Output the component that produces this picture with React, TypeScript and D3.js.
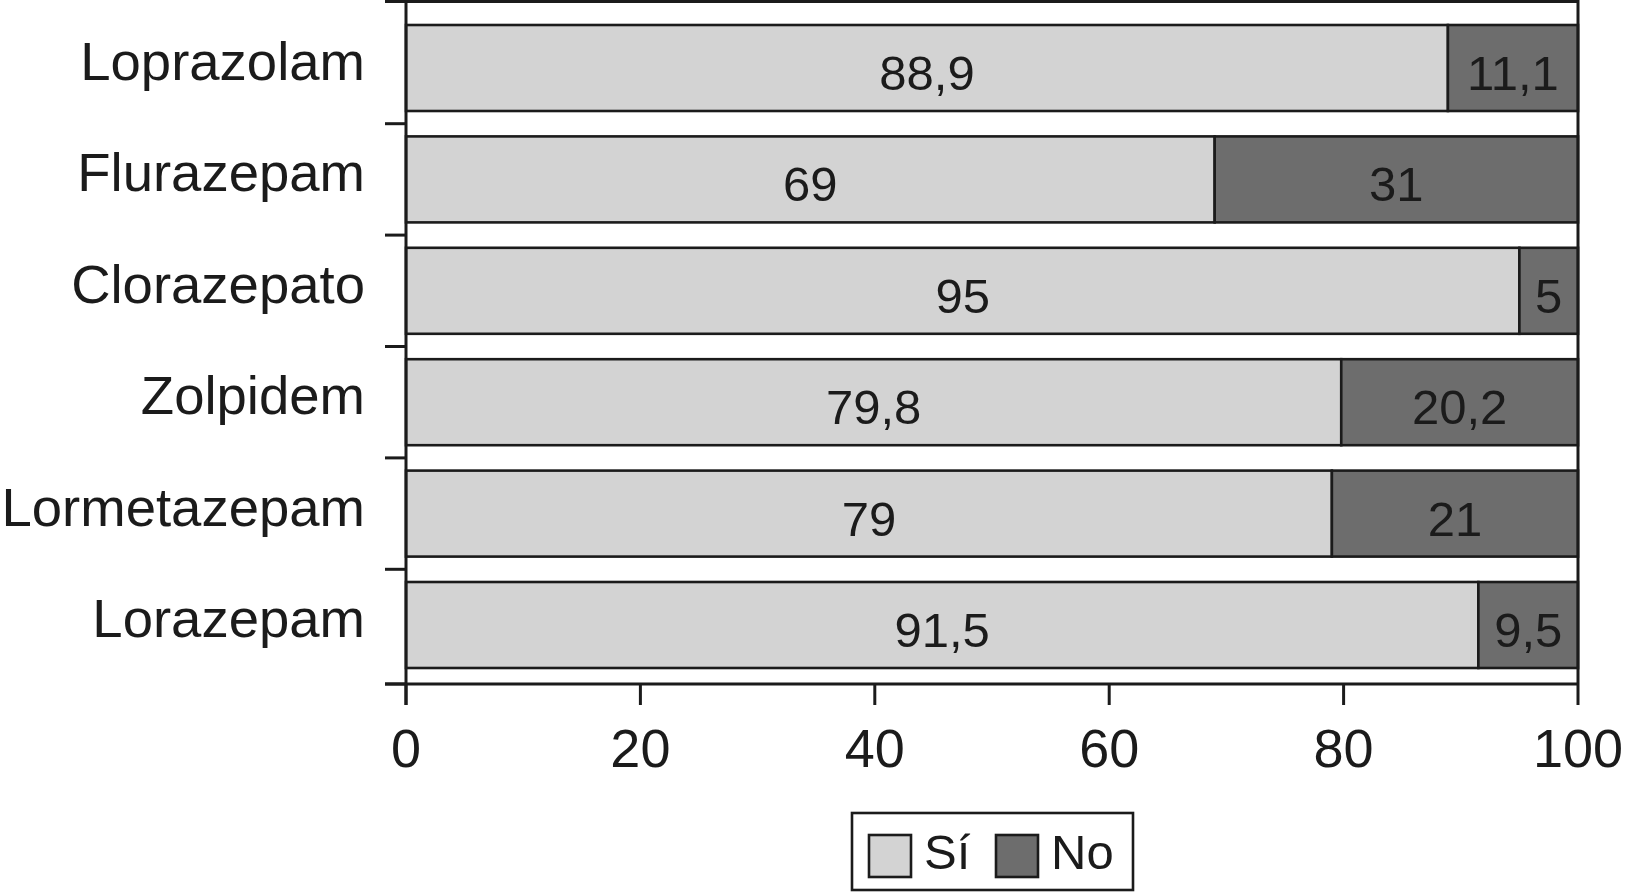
import React, { useEffect, useRef } from 'react';
import * as d3 from 'd3';

const categories = ['Loprazolam', 'Flurazepam', 'Clorazepato', 'Zolpidem', 'Lormetazepam', 'Lorazepam'];
const siValues = [88.9, 69, 95, 79.8, 79, 91.5];
const noValues = [11.1, 31, 5, 20.2, 21, 9.5];
const siLabels = ['88,9', '69', '95', '79,8', '79', '91,5'];
const noLabels = ['11,1', '31', '5', '20,2', '21', '9,5'];
const xTicks = [0, 20, 40, 60, 80, 100];
const seriesNames = ['Sí', 'No'];

const WIDTH = 1625;
const HEIGHT = 892;
const FONT = '"Liberation Sans", Arial, Helvetica, sans-serif';
const INK = '#1b1b1b';
const colors = ['#d3d3d3', '#6d6d6d'];

function App() {
  const ref = useRef<SVGSVGElement>(null);

  useEffect(() => {
    const svg = d3.select(ref.current);
    svg.selectAll('*').remove();

    const left = 406, right = 1578, top = 1.5, bottom = 684;

    const x = d3.scaleLinear().domain([0, 100]).range([left, right]).clamp(true);
    // bars sit a bit lower than the band centres in the original
    const y = d3.scaleBand<string>()
      .domain(categories)
      .range([25, 668])
      .paddingInner(0.228)
      .paddingOuter(0);

    const g = svg.append('g');

    categories.forEach((c, i) => {
      const y0 = y(c) as number;
      const h = y.bandwidth();
      g.append('rect')
        .attr('x', x(0)).attr('y', y0)
        .attr('width', x(siValues[i]) - x(0)).attr('height', h)
        .attr('fill', colors[0]).attr('stroke', INK).attr('stroke-width', 2.6);
      g.append('rect')
        .attr('x', x(siValues[i])).attr('y', y0)
        .attr('width', x(siValues[i] + noValues[i]) - x(siValues[i])).attr('height', h)
        .attr('fill', colors[1]).attr('stroke', INK).attr('stroke-width', 2.6);

      const cy = y0 + h / 2;
      g.append('text')
        .attr('x', (x(0) + x(siValues[i])) / 2).attr('y', cy + 22)
        .attr('text-anchor', 'middle')
        .attr('font-size', 49).attr('font-family', FONT).attr('fill', INK)
        .text(siLabels[i]);
      g.append('text')
        .attr('x', (x(siValues[i]) + x(siValues[i] + noValues[i])) / 2).attr('y', cy + 22)
        .attr('text-anchor', 'middle')
        .attr('font-size', 49).attr('font-family', FONT).attr('fill', INK)
        .text(noLabels[i]);

      g.append('text')
        .attr('x', 365).attr('y', cy + 12)
        .attr('text-anchor', 'end')
        .attr('font-size', 54.5).attr('font-family', FONT).attr('fill', INK)
        .text(c);
    });

    // frame: top + right
    g.append('path')
      .attr('d', `M${left},${top}H${right}V${bottom}`)
      .attr('fill', 'none').attr('stroke', INK).attr('stroke-width', 3);

    // y axis + ticks between categories
    const gap = y.step() * y.paddingInner();
    const boundaries = [top, ...categories.slice(1).map(c => (y(c) as number) - gap / 2), bottom];
    g.append('line')
      .attr('x1', left).attr('x2', left).attr('y1', top).attr('y2', bottom + 21)
      .attr('stroke', INK).attr('stroke-width', 3);
    g.selectAll('.ytick')
      .data(boundaries)
      .enter()
      .append('line')
      .attr('x1', left - 21).attr('x2', left)
      .attr('y1', d => d).attr('y2', d => d)
      .attr('stroke', INK).attr('stroke-width', 3);

    // x axis
    g.append('line')
      .attr('x1', left - 21).attr('x2', right).attr('y1', bottom).attr('y2', bottom)
      .attr('stroke', INK).attr('stroke-width', 3);
    g.selectAll('.xtick')
      .data(xTicks)
      .enter()
      .append('line')
      .attr('x1', d => x(d)).attr('x2', d => x(d))
      .attr('y1', bottom).attr('y2', bottom + 21)
      .attr('stroke', INK).attr('stroke-width', 3);
    g.selectAll('.xlabel')
      .data(xTicks)
      .enter()
      .append('text')
      .attr('x', d => x(d)).attr('y', 767)
      .attr('text-anchor', 'middle')
      .attr('font-size', 54).attr('font-family', FONT).attr('fill', INK)
      .text(d => d);

    // legend
    const lg = svg.append('g').attr('transform', 'translate(852,813)');
    lg.append('rect')
      .attr('width', 281).attr('height', 77)
      .attr('fill', 'white').attr('stroke', INK).attr('stroke-width', 2.6);
    const itemX = [17, 144];
    seriesNames.forEach((s, i) => {
      lg.append('rect')
        .attr('x', itemX[i]).attr('y', 22)
        .attr('width', 42).attr('height', 42)
        .attr('fill', colors[i]).attr('stroke', INK).attr('stroke-width', 2.6);
      lg.append('text')
        .attr('x', itemX[i] + 55).attr('y', 56)
        .attr('font-size', 49).attr('font-family', FONT).attr('fill', INK)
        .text(s);
    });
  }, []);

  return (
    <svg
      ref={ref}
      width={WIDTH}
      height={HEIGHT}
      style={{ position: 'absolute', left: 0, top: 0, background: 'white' }}
    />
  );
}

export default App;
